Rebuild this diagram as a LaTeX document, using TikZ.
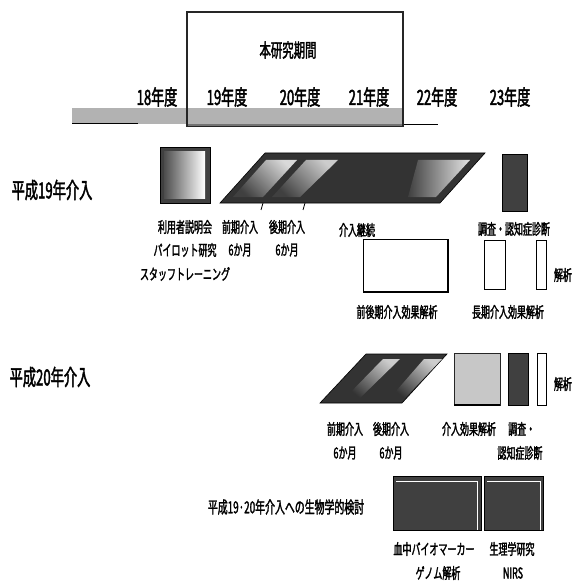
\documentclass[tikz,border=0pt]{standalone}
\usepackage{fontspec}
\newfontfamily\jpn[FakeStretch=0.6,FakeBold=1.8]{Noto Sans CJK JP}
\newfontfamily\jpw[FakeStretch=0.62,FakeBold=2]{Noto Sans CJK JP}
\begin{document}
\begin{tikzpicture}[x=1pt,y=-1pt,
  lbl/.style={font=\jpn\fontsize{15}{17}\selectfont, inner sep=0pt},
  rowtitle/.style={font=\jpn\fontsize{22}{24}\selectfont, inner sep=0pt},
  yearlbl/.style={font=\jpw\fontsize{21}{23}\selectfont, inner sep=0pt},
  darkbox/.style={fill=black!75, draw=black, line width=0.8pt},
  whitebox/.style={fill=white, draw=black, line width=1pt},
  graybox/.style={fill=black!22, draw=black!85, line width=1pt},
  para/.style={fill=black!80, draw=black, line width=0.6pt}]
\useasboundingbox (0,0) rectangle (575,588);

% ---------- timeline ----------
\fill[black!30] (72,108) rectangle (402,124);
\draw[black, line width=1pt] (72,124) -- (138,124);
\draw[black, line width=1pt] (403,125) -- (438,125);
\draw[black!85, line width=1.3pt] (187,12) rectangle (403,126);
\draw[black!55, line width=2.5pt] (188,125) -- (402,125);
\node[font=\jpn\fontsize{19}{21}\selectfont, inner sep=0pt] (period) at (288,50) {本研究期間};
\node[yearlbl] (y18) at (157,97) {18年度};
\node[yearlbl] (y19) at (227,97) {19年度};
\node[yearlbl] (y20) at (300,97) {20年度};
\node[yearlbl] (y21) at (369,97) {21年度};
\node[yearlbl] (y22) at (437,97) {22年度};
\node[yearlbl] (y23) at (510,97) {23年度};

% ---------- H19 intervention ----------
\node[rowtitle] (r19) at (52,190) {平成19年介入};

% box 1
\fill[black!75] (160,147) rectangle (210,203);
\shade[left color=black!70, right color=white, shading angle=90] (164,152) rectangle (205,198);
\draw[black, line width=0.8pt] (160,147) rectangle (210,203);

% parallelogram
\draw[para] (220,203) -- (265,153) -- (485,153) -- (440,203) -- cycle;
\shade[top color=white!85!black, bottom color=black!75, shading angle=-45]
  (233,197) -- (263,197) -- (297,160) -- (266,160) -- cycle;
\shade[top color=white!80!black, bottom color=black!75, shading angle=-45]
  (272,197) -- (300,197) -- (338,160) -- (306,160) -- cycle;
\shade[left color=black!75, right color=white!90!black]
  (408,197) -- (436,197) -- (470,160) -- (418,160) -- cycle;
\draw[black, line width=0.8pt] (263,203) -- (261,210);
\draw[black, line width=0.8pt] (305,203) -- (303,210);

% tall dark rect
\draw[darkbox] (502,154) rectangle (527,211);

% white rects
\draw[whitebox] (363,239) rectangle (448,292);
\draw[black, line width=1.6pt] (363,292) -- (448,292) -- (448,239);
\draw[whitebox] (484,240) rectangle (505,289);
\draw[whitebox] (536,240) rectangle (546,289);

% labels row 1
\node[lbl] (l1a) at (185,227) {利用者説明会};
\node[lbl] (l1b) at (185,250) {パイロット研究};
\node[lbl] (l1c) at (185,274) {スタッフトレーニング};
\node[lbl] (l2a) at (240,227) {前期介入};
\node[lbl] (l2b) at (240,250) {6か月};
\node[lbl] (l3a) at (287,227) {後期介入};
\node[lbl] (l3b) at (287,250) {6か月};
\node[lbl] (l4) at (357,230) {介入継続};
\node[lbl] (l5) at (514,229) {調査・認知症診断};
\node[lbl] (l6) at (397,312) {前後期介入効果解析};
\node[lbl] (l7) at (508,312) {長期介入効果解析};
\node[lbl] (l8) at (563,275) {解析};

% ---------- H20 intervention ----------
\node[rowtitle] (r20) at (50,377) {平成20年介入};

\draw[para] (320,403) -- (366,354) -- (447,354) -- (402,403) -- cycle;
\shade[top color=white!80!black, bottom color=black!80, shading angle=-40]
  (345,398) -- (360,398) -- (400,359) -- (383,359) -- cycle;
\shade[top color=white!80!black, bottom color=black!80, shading angle=-40]
  (390,398) -- (405,398) -- (442,359) -- (424,359) -- cycle;

\draw[graybox] (454,353) rectangle (500,405);
\draw[black, line width=1.8pt] (454,405) -- (500,405);
\draw[darkbox] (508,353) rectangle (528,405);
\draw[whitebox] (537,353) rectangle (546,405);

\node[lbl] (m1a) at (345,429) {前期介入};
\node[lbl] (m1b) at (345,453) {6か月};
\node[lbl] (m2a) at (391,429) {後期介入};
\node[lbl] (m2b) at (391,453) {6か月};
\node[lbl] (m3) at (469,429) {介入効果解析};
\node[lbl, anchor=west] (m4a) at (508,429) {調査・};
\node[lbl] (m4b) at (520,453) {認知症診断};
\node[lbl] (m5) at (563,384) {解析};

% ---------- biological study ----------
\node[font=\jpn\fontsize{16.5}{18}\selectfont, inner sep=0pt] (bio) at (286,507) {平成19·20年介入への生物学的検討};

\draw[darkbox] (393,476) rectangle (481,530);
\draw[white, line width=1pt] (396,481) -- (477,481) -- (477,530);
\draw[darkbox] (484,476) rectangle (543,530);
\draw[white, line width=1pt] (487,481) -- (540,481) -- (540,530);

\node[lbl] (b1a) at (434,549) {血中バイオマーカー};
\node[lbl] (b1b) at (438,573) {ゲノム解析};
\node[lbl] (b2a) at (512,549) {生理学研究};
\node[lbl] (b2b) at (513,573) {NIRS};
\end{tikzpicture}
\end{document}
